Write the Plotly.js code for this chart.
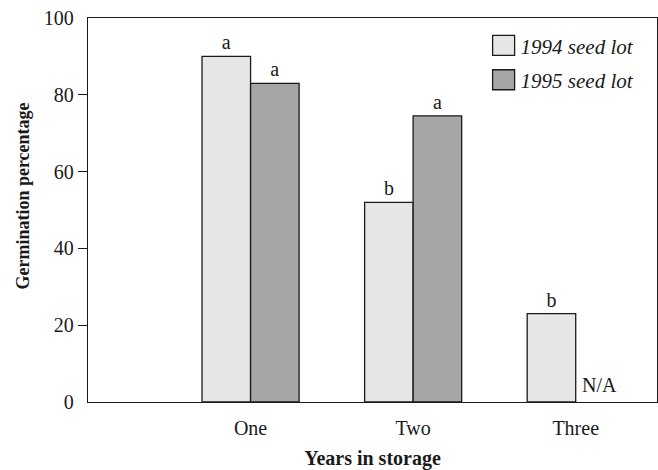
<!DOCTYPE html>
<html>
<head>
<meta charset="utf-8">
<script src="https://cdn.plot.ly/plotly-3.0.1.min.js"></script>
<style>html,body{margin:0;padding:0;background:#fff;}#chart{width:658px;height:470px;}</style>
</head>
<body>
<div id="chart"></div>
<script>
// Data
const categories = ['One', 'Two', 'Three'];
const seriesNames = ['1994 seed lot', '1995 seed lot'];
const lot1994 = [90, 52, 23];
const lot1995 = [83, 74.5, null];
const letters1994 = ['a', 'b', 'b'];
const letters1995 = ['a', 'a', ''];
const naLabel = 'N/A';
const yTickVals = [0, 20, 40, 60, 80, 100];
const yTickUnmarked = [0, 100];

const FONT = 'Liberation Serif, Times New Roman, serif';
const INK = '#1a1a1a';

const traces = [
  {
    type: 'bar', name: seriesNames[0], x: categories, y: lot1994,
    text: letters1994, textposition: 'outside', cliponaxis: false,
    outsidetextfont: {family: FONT, size: 20, color: INK},
    marker: {color: '#e6e6e6', line: {color: INK, width: 1.3}},
    legendgroup: 'g1', hoverinfo: 'skip'
  },
  {
    type: 'bar', name: seriesNames[1], x: categories, y: lot1995,
    text: letters1995, textposition: 'outside', cliponaxis: false,
    outsidetextfont: {family: FONT, size: 20, color: INK},
    marker: {color: '#a6a6a6', line: {color: INK, width: 1.3}},
    legendgroup: 'g2', hoverinfo: 'skip'
  }
];

const layout = {
  width: 658, height: 470,
  margin: {l: 88, r: 1, t: 17.5, b: 67.5},
  paper_bgcolor: '#fff', plot_bgcolor: '#fff',
  font: {family: FONT, size: 20, color: INK},
  barmode: 'group', bargap: 0.403, bargroupgap: 0,
  showlegend: true,
  legend: {
    x: 0.69, y: 0.981, xanchor: 'left', yanchor: 'top',
    bgcolor: 'rgba(0,0,0,0)', borderwidth: 0,
    font: {family: FONT, size: 21, style: 'italic', color: INK},
    traceorder: 'grouped', tracegroupgap: 4
  },
  xaxis: {
    type: 'category', categoryorder: 'array', categoryarray: categories,
    range: [-1, 2.5], showline: true, mirror: true, linecolor: INK, linewidth: 1.3,
    ticks: '', ticklabelstandoff: 8, showgrid: false, zeroline: false,
    tickfont: {family: FONT, size: 20, color: INK},
    title: {text: '<b>Years in storage</b>', font: {family: FONT, size: 20, color: INK}, standoff: 12}
  },
  yaxis: {
    range: [0, 100], tickvals: yTickVals, ticks: 'outside', ticklen: 9, tickwidth: 1.3, tickcolor: INK,
    showline: true, mirror: true, linecolor: INK, linewidth: 1.3, showgrid: false, zeroline: false,
    tickfont: {family: FONT, size: 20, color: INK},
    title: {text: '<b>Germination percentage</b>', font: {family: FONT, size: 18, color: INK}, standoff: 9}
  },
  annotations: [
    {x: categories[2], y: 0, xref: 'x', yref: 'y', text: naLabel, showarrow: false,
     xanchor: 'center', yanchor: 'bottom', xshift: 24, yshift: 4,
     font: {family: FONT, size: 20, color: INK}}
  ]
};

Plotly.newPlot('chart', traces, layout, {displayModeBar: false, staticPlot: true}).then(function (gd) {
  // the reference has no tick marks at 0 and 100 (only labels)
  gd.querySelectorAll('path.ytick').forEach(function (p) {
    const d = p.__data__;
    if (d && yTickUnmarked.indexOf(d.x) !== -1) p.style.display = 'none';
  });
  // enlarge legend swatches to match the reference's boxes
  gd.querySelectorAll('.legend .legendpoints path').forEach(function (p) {
    p.setAttribute('d', 'M14,10H-8V-10H14Z');
  });
  // the reference's y title sits a little above the plot's middle
  const yt = gd.querySelector('.g-ytitle');
  if (yt) yt.setAttribute('transform', 'translate(0,-14)');
});
</script>
</body>
</html>
